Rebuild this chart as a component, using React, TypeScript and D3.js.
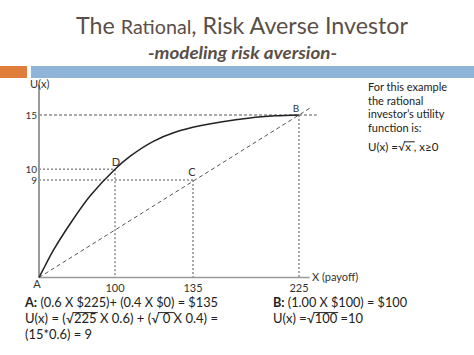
import React, { useLayoutEffect, useRef, useState } from "react";
import * as d3 from "d3";

// ---- data ----
const xStops = [0, 100, 135, 225];
const xTicks = [100, 135, 225];
const yTicks = [9, 10, 15];
const curveX = [0, 7.9, 18.4, 40.8, 67.1, 100, 106.7, 117.0, 126.9, 140.9, 183.4, 204.6, 225];
const curveU = [0, 1.06, 2.45, 4.94, 7.52, 10, 11.18, 12.55, 13.4, 14.0, 14.72, 14.92, 15];
const pointNames = ["A", "B", "C", "D"];
const pointX = [0, 225, 135, 100];
const pointU = [0, 15, 9, 10];
const diagEnd = [236, 15.75];
const rightText = ["For this example", "the rational", "investor\u2019s utility", "function is:"];

const W = 474;
const H = 355;

type Seg = { x1: number; x2: number; y: number };

export default function App() {
  const x = d3.scaleLinear().domain(xStops).range([39, 115, 193, 299]);
  const y = d3.scaleLinear().domain([0, 15]).range([277.5, 115]);
  const font = "Lato, 'DejaVu Sans', sans-serif";
  const ink = "#222";
  const guide = "#555";

  const curvePts: [number, number][] = curveX.map((v, i) => [v, curveU[i]]);
  const curvePath = d3
    .line<[number, number]>()
    .x((d) => x(d[0]))
    .y((d) => y(d[1]))
    .curve(d3.curveCatmullRom.alpha(0.5))(curvePts);

  const pt = (n: string) => {
    const i = pointNames.indexOf(n);
    return { px: x(pointX[i]), py: y(pointU[i]) };
  };
  const A = pt("A"), B = pt("B"), C = pt("C"), D = pt("D");

  const svgRef = useRef<SVGSVGElement>(null);
  const [segs, setSegs] = useState<Seg[]>([]);
  useLayoutEffect(() => {
    const svg = svgRef.current;
    if (!svg) return;
    const out: Seg[] = [];
    svg.querySelectorAll("tspan.rad").forEach((el: any) => {
      const n = el.getNumberOfChars();
      if (!n) return;
      const s = el.getStartPositionOfChar(0);
      const e = el.getEndPositionOfChar(n - 1);
      const fs = parseFloat(el.getAttribute("data-fs") || "13");
      out.push({ x1: s.x - 1, x2: e.x + 1, y: s.y - fs * 0.8 });
    });
    setSegs(out);
  }, []);

  return (
    <svg ref={svgRef} width={W} height={H} style={{ position: "absolute", left: 0, top: 0, background: "#fff" }} fontFamily={font}>
      {/* title */}
      <text x={242} y={34} textAnchor="middle" fill="#5a4f48" fontSize={23} textLength={332} lengthAdjust="spacingAndGlyphs">
        The <tspan fontSize={19.5}>Rational</tspan>, Risk Averse Investor
      </text>
      <text x={242.5} y={59} textAnchor="middle" fill="#5a4f48" fontSize={17} fontWeight="bold" fontStyle="italic" textLength={189} lengthAdjust="spacingAndGlyphs">
        -modeling risk aversion-
      </text>
      <rect x={0} y={66} width={27} height={12} fill="#E07E3C" />
      <rect x={31} y={66} width={W - 31} height={12} fill="#8FB4D7" />

      {/* guide lines */}
      <line x1={x(0)} x2={x(240)} y1={y(15)} y2={y(15)} stroke={guide} strokeWidth={1} strokeDasharray="3,2" />
      <line x1={x(0)} x2={D.px} y1={D.py} y2={D.py} stroke={guide} strokeWidth={1} strokeDasharray="2,2" />
      <line x1={x(0)} x2={C.px} y1={C.py} y2={C.py} stroke={guide} strokeWidth={1} strokeDasharray="2,2" />
      <line x1={D.px} x2={D.px} y1={D.py} y2={y(0)} stroke={guide} strokeWidth={1} strokeDasharray="2,2" />
      <line x1={C.px} x2={C.px} y1={C.py} y2={y(0)} stroke={guide} strokeWidth={1} strokeDasharray="2,2" />
      <line x1={B.px} x2={B.px} y1={B.py} y2={y(0)} stroke={guide} strokeWidth={1} strokeDasharray="2,2" />
      <line x1={A.px} y1={A.py} x2={x(diagEnd[0])} y2={y(diagEnd[1])} stroke={guide} strokeWidth={1} strokeDasharray="4,3" />

      {/* axes */}
      <line x1={x(0)} x2={x(0)} y1={y(17.8)} y2={y(0)} stroke="#9a9a9a" strokeWidth={2} />
      <line x1={x(0)} x2={x(234)} y1={y(0)} y2={y(0)} stroke="#9a9a9a" strokeWidth={1.5} />

      {/* curve */}
      <path d={curvePath || ""} fill="none" stroke={ink} strokeWidth={1.5} />

      {/* tick labels */}
      {xTicks.map((t) => (
        <text key={"x" + t} x={x(t)} y={292} textAnchor="middle" fontSize={11} fill="#333">
          {t}
        </text>
      ))}
      {yTicks.map((t) => (
        <text key={"y" + t} x={37} y={y(t) + 3.5} textAnchor="end" fontSize={10} fill="#333">
          {t}
        </text>
      ))}
      <text x={30} y={88} fontSize={11} fill="#333">U(x)</text>
      <text x={312} y={281} fontSize={11} fill="#333">X (payoff)</text>

      {/* point labels */}
      <text x={A.px - 2} y={A.py + 10} textAnchor="middle" fontSize={11} fill="#333">A</text>
      <text x={B.px - 3} y={B.py - 3} textAnchor="middle" fontSize={10} fill="#333">B</text>
      <text x={C.px - 1} y={C.py - 4} textAnchor="middle" fontSize={11} fill="#333">C</text>
      <text x={D.px + 1} y={D.py - 3} textAnchor="middle" fontSize={11} fill="#333">D</text>

      {/* right text */}
      {rightText.map((s, i) => (
        <text key={s} x={368} y={91 + i * 13.7} fontSize={11} fill={ink}>
          {s}
        </text>
      ))}
      <text x={368} y={151} fontSize={11.5} fill={ink}>
        U(x) =√<tspan className="rad" data-fs="11.5">x </tspan> , x≥0
      </text>

      {/* bottom text */}
      <text x={25} y={307} fontSize={13} fill={ink} textLength={193} lengthAdjust="spacingAndGlyphs">
        <tspan fontWeight="bold">A:</tspan> (0.6 X $225)+ (0.4 X $0) = $135
      </text>
      <text x={25} y={323} fontSize={13} fill={ink} textLength={193} lengthAdjust="spacingAndGlyphs">
        U(x) = (√<tspan className="rad" data-fs="13">225</tspan> X 0.6) + (√<tspan className="rad" data-fs="13"> 0 </tspan> X 0.4) =
      </text>
      <text x={25} y={339} fontSize={13} fill={ink} textLength={67} lengthAdjust="spacingAndGlyphs">
        (15*0.6) = 9
      </text>
      <text x={273} y={307} fontSize={13} fill={ink} textLength={134} lengthAdjust="spacingAndGlyphs">
        <tspan fontWeight="bold">B:</tspan> (1.00 X $100) = $100
      </text>
      <text x={273} y={323} fontSize={13} fill={ink} textLength={90} lengthAdjust="spacingAndGlyphs">
        U(x) =√<tspan className="rad" data-fs="13">100</tspan> =10
      </text>
      {segs.map((s, i) => (
        <line key={"ov" + i} x1={s.x1} x2={s.x2} y1={s.y} y2={s.y} stroke={ink} strokeWidth={1} />
      ))}
    </svg>
  );
}
